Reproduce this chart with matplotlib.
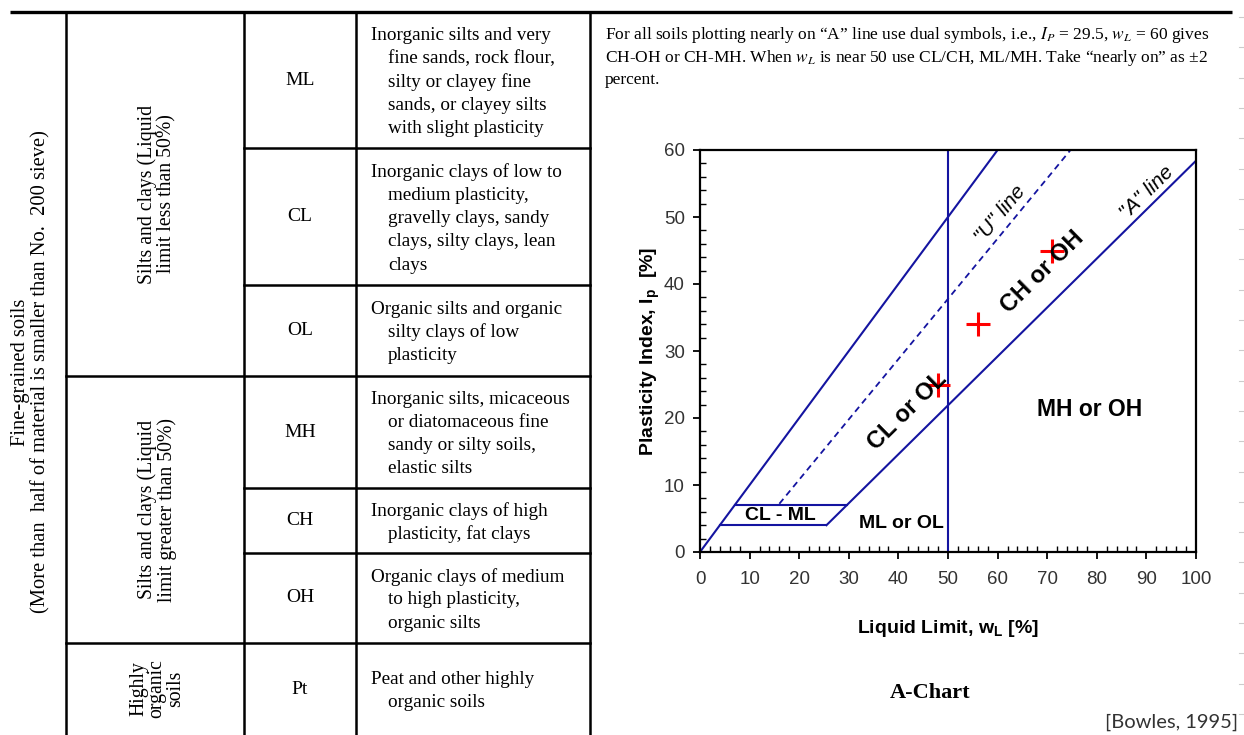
import numpy as np
import matplotlib.pyplot as plt

plt.rcParams['mathtext.fontset'] = 'stix'

SERIF = 'Liberation Serif'
SANS = 'Liberation Sans'

# --- classification table -------------------------------------------------
soil_symbols = ['ML', 'CL', 'OL', 'MH', 'CH', 'OH', 'Pt']
soil_descriptions = [
    ['Inorganic silts and very', 'fine sands, rock flour,', 'silty or clayey fine',
     'sands, or clayey silts', 'with slight plasticity'],
    ['Inorganic clays of low to', 'medium plasticity,', 'gravelly clays, sandy',
     'clays, silty clays, lean', 'clays'],
    ['Organic silts and organic', 'silty clays of low', 'plasticity'],
    ['Inorganic silts, micaceous', 'or diatomaceous fine', 'sandy or silty soils,',
     'elastic silts'],
    ['Inorganic clays of high', 'plasticity, fat clays'],
    ['Organic clays of medium', 'to high plasticity,', 'organic silts'],
    ['Peat and other highly', 'organic soils'],
]
group_names = ['Silts and clays (Liquid\nlimit less than 50%)',
               'Silts and clays (Liquid\nlimit greater than 50%)',
               'Highly\norganic\nsoils']
group_rows = [(0, 3), (3, 6), (6, 7)]
main_group = 'Fine-grained soils\n(More than  half of material is smaller than No.  200 sieve)'

note_lines = [
    'For all soils plotting nearly on \u201cA\u201d line use dual symbols, i.e., $I_P$ = 29.5, $w_L$ = 60 gives',
    'CH-OH or CH-MH. When $w_L$ is near 50 use CL/CH, ML/MH. Take \u201cnearly on\u201d as \u00b12',
    'percent.',
]

# --- plasticity chart -----------------------------------------------------
upper_wl, upper_ip = [0, 60], [0, 60]
u_line_wl, u_line_ip = [16, 74.7], [7.2, 60]
a_line_wl, a_line_ip = [25.5, 100], [4, 58.4]
ll50_wl, ll50_ip = [50, 50], [0, 60]
clml_top_wl, clml_top_ip = [7, 29.6], [7, 7]
clml_bot_wl, clml_bot_ip = [4, 25.5], [4, 4]

sample_wl = [48, 56, 71]
sample_ip = [25, 34, 45]

W, H = 1244, 735
fig = plt.figure(figsize=(W / 100, H / 100), dpi=100)

page = fig.add_axes([0, 0, 1, 1])
page.set_xlim(0, W)
page.set_ylim(H, 0)
page.axis('off')

# table grid
row_edges = [12, 148, 285, 376, 488, 553, 643, 735]
col_x = [66, 244, 356, 590]
lw_tab = 1.8
page.plot([10, 1232], [12, 12], color='black', lw=2.4, solid_capstyle='butt')
for x in col_x:
    page.plot([x, x], [12, 735], color='black', lw=lw_tab)
for i, y in enumerate(row_edges[1:-1], start=1):
    x0 = 66 if i in (3, 6) else 244
    page.plot([x0, 590], [y, y], color='black', lw=lw_tab)

line_gap = 23.3
for i, (sym, desc) in enumerate(zip(soil_symbols, soil_descriptions)):
    mid = (row_edges[i] + row_edges[i + 1]) / 2
    page.text(300, mid, sym, family=SERIF, fontsize=14, ha='center', va='center')
    y0 = mid + 2 - line_gap * (len(desc) - 1) / 2
    for k, line in enumerate(desc):
        page.text(371 if k == 0 else 388, y0 + k * line_gap, line,
                  family=SERIF, fontsize=13.8, ha='left', va='center')

group_spacing = [1.0, 1.0, 0.95]
for name, (r0, r1), sp in zip(group_names, group_rows, group_spacing):
    mid = (row_edges[r0] + row_edges[r1]) / 2
    page.text(157, mid, name, family=SERIF, fontsize=14.2, rotation=90,
              ha='center', va='center', multialignment='center', linespacing=sp)

page.text(31, 372, main_group, family=SERIF, fontsize=14.8, rotation=90,
          ha='center', va='center', multialignment='center', linespacing=1.1)

for k, line in enumerate(note_lines):
    page.text(605, 35 + k * 22.5, line, family=SERIF, fontsize=12.5,
              ha='left', va='center')

page.text(930, 693, 'A-Chart', family=SERIF, fontsize=16, fontweight='bold',
          ha='center', va='center')
page.text(1238, 722, '[Bowles, 1995]', family='Lato', fontsize=14.5,
          color='#333333', ha='right', va='center')

# faint ruler marks on the right edge
for y in np.arange(17, H, 30.3):
    page.plot([1239, 1244], [y, y], color='#cccccc', lw=0.8)

# chart
ax = fig.add_axes([700 / W, 1 - 552 / H, 496 / W, 402 / H])
blue = '#1414A0'
for xs, ys in [(upper_wl, upper_ip), (a_line_wl, a_line_ip), (ll50_wl, ll50_ip),
               (clml_top_wl, clml_top_ip), (clml_bot_wl, clml_bot_ip)]:
    ax.plot(xs, ys, color=blue, lw=1.5)
ax.plot(u_line_wl, u_line_ip, color=blue, lw=1.3, ls=(0, (3.5, 2.5)))
ax.plot(sample_wl, sample_ip, ls='none', marker='+', color='red',
        markersize=17, markeredgewidth=2.2)

ax.set_xlim(0, 100)
ax.set_ylim(0, 60)
ax.set_xticks(np.arange(0, 101, 10))
ax.set_yticks(np.arange(0, 61, 10))
ax.set_xticks(np.arange(0, 101, 2), minor=True)
ax.set_yticks(np.arange(0, 61, 2), minor=True)
ax.tick_params(which='major', direction='out', length=5, width=1.3,
               labelsize=13.5, labelcolor='#333333', pad=6)
ax.tick_params(axis='x', which='major', pad=9)
ax.tick_params(which='minor', direction='in', length=4, width=1.0)
for lab in ax.get_xticklabels() + ax.get_yticklabels():
    lab.set_family(SANS)
for s in ax.spines.values():
    s.set_linewidth(1.6)

ax.set_xlabel(r'Liquid Limit, w$\mathregular{_L}$ [%]', family=SANS,
              fontsize=14, fontweight='bold', labelpad=21)
ax.set_ylabel(r'Plasticity Index, I$\mathregular{_p}$  [%]', family=SANS,
              fontsize=14, fontweight='bold', labelpad=1)

# screen angle of a line in this axes
def screen_angle(slope):
    return np.degrees(np.arctan(slope * (402 / 60) / (496 / 100)))

a_ang = screen_angle(0.73)
u_ang = screen_angle(0.9)
zone_kw = dict(family=SANS, fontweight='bold', ha='center', va='center')
ax.text(41.9, 21.0, 'CL or OL', fontsize=17, rotation=a_ang, **zone_kw)
ax.text(69.0, 41.8, 'CH or OH', fontsize=17, rotation=a_ang, **zone_kw)
ax.text(78.6, 21.2, 'MH or OH', fontsize=16.5, **zone_kw)
ax.text(40.7, 4.2, 'ML or OL', fontsize=14, **zone_kw)
ax.text(16.3, 5.4, 'CL - ML', fontsize=14, **zone_kw)
ax.text(60.5, 50.4, '"U" line', family=SANS, style='italic', fontsize=15,
        rotation=u_ang, ha='center', va='center')
ax.text(90.1, 53.6, '"A" line', family=SANS, style='italic', fontsize=15,
        rotation=a_ang, ha='center', va='center')

fig.savefig('out.png', dpi=100)
